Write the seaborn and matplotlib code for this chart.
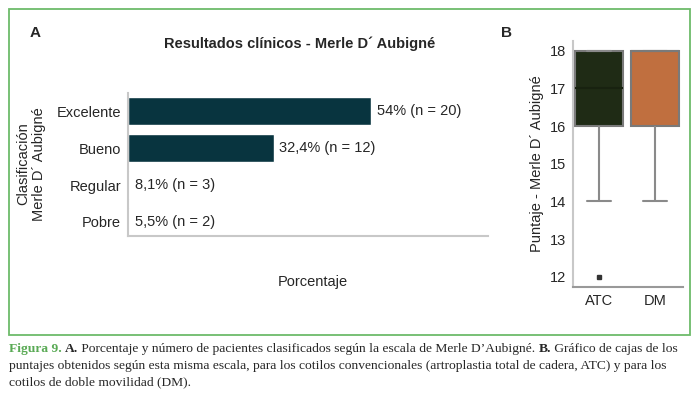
import numpy as np
import pandas as pd
import matplotlib
matplotlib.use('Agg')
import matplotlib.pyplot as plt
import seaborn as sns
from matplotlib.patches import Rectangle

# Panel A data
categorias = ['Excelente', 'Bueno', 'Regular', 'Pobre']
largo_barra = [54, 32.4, 0.3, 0.3]  # Regular/Pobre bars barely visible in the original
etiquetas = ['54% (n = 20)', '32,4% (n = 12)', '8,1% (n = 3)', '5,5% (n = 2)']

# Panel B data (individual scores)
atc = [12, 14, 16, 16, 16, 17, 17, 17, 18, 18, 18, 18]
dm = [14, 16, 16, 16, 17, 18, 18, 18, 18, 18, 18, 18]
grupos = ['ATC', 'DM']

sns.set_style('white')
plt.rcParams['font.family'] = ['Liberation Sans', 'DejaVu Sans']

fig = plt.figure(figsize=(6.99, 3.98), dpi=100)
W, H = 699, 398


def ax_px(x0, y0, x1, y1):
    return fig.add_axes([x0 / W, 1 - y1 / H, (x1 - x0) / W, (y1 - y0) / H])


gris = '#c8c8c8'

# ---- Panel A ----
axA = ax_px(128, 93, 488, 236)
dfA = pd.DataFrame({'cat': categorias, 'val': largo_barra})
sns.barplot(data=dfA, x='val', y='cat', orient='h', color='#08343f',
            width=0.75, ax=axA, saturation=1)
for i, (v, t) in enumerate(zip(largo_barra, etiquetas)):
    axA.annotate(t, (v, i), xytext=(4, 0), textcoords='offset points',
                 va='center', ha='left', fontsize=10.5)
axA.set_xlim(0, 80)
axA.set_ylim(3.38, -0.49)
axA.set_xticks(np.arange(0, 81, 10))
axA.set_xticklabels([])
axA.set_xlabel('')
axA.set_ylabel('')
axA.tick_params(axis='y', labelsize=10.5, length=3, color=gris, pad=2)
axA.tick_params(axis='x', length=3, color=gris)
for s in ['top', 'right']:
    axA.spines[s].set_visible(False)
for s in ['left', 'bottom']:
    axA.spines[s].set_color(gris)
    axA.spines[s].set_linewidth(1.5)

fig.text(35 / W, 1 - 33 / H, 'A', fontsize=11, fontweight='bold', ha='center', va='center')
fig.text(300 / W, 1 - 44 / H, 'Resultados clínicos - Merle D´ Aubigné',
         fontsize=10.5, fontweight='bold', ha='center', va='center')
fig.text(31 / W, 1 - 164 / H, 'Clasificación\nMerle D´ Aubigné', rotation=90,
         fontsize=10.5, ha='center', va='center', linespacing=1.1)
fig.text(313 / W, 1 - 282 / H, 'Porcentaje', fontsize=10.5, ha='center', va='center')

# ---- Panel B ----
axB = ax_px(573, 41, 683, 287)
dfB = pd.DataFrame({'grupo': ['ATC'] * len(atc) + ['DM'] * len(dm),
                    'puntaje': atc + dm})
sns.boxplot(data=dfB, x='grupo', y='puntaje', hue='grupo',
            palette=['#1f2b15', '#c06f3f'], width=0.86, ax=axB,
            saturation=1, linecolor='#8a8a8a', linewidth=1.5,
            flierprops=dict(marker='s', markersize=2.5, markerfacecolor='#333333',
                            markeredgecolor='#333333'),
            medianprops=dict(color='#182210', linewidth=1.5),
            boxprops=dict(edgecolor='#7a7a7a'))
# DM median sits on the box top edge: keep it grey like the edge
for ln in axB.lines:
    yd = np.asarray(ln.get_ydata(), dtype=float)
    if len(yd) == 2 and np.all(yd == 18) and ln.get_color() == '#182210':
        ln.set_color('#7a7a7a')
axB.set_xlim(-0.464, 1.5)
axB.set_ylim(11.73, 18.26)
axB.set_yticks(range(12, 19))
axB.set_xlabel('')
axB.set_ylabel('Puntaje - Merle D´ Aubigné', fontsize=10.5, labelpad=4)
axB.tick_params(axis='both', labelsize=10.5, length=3, color=gris, pad=2)
for s in ['top', 'right']:
    axB.spines[s].set_visible(False)
axB.spines['left'].set_color(gris)
axB.spines['left'].set_linewidth(1.5)
axB.spines['bottom'].set_color('#999999')
axB.spines['bottom'].set_linewidth(1.5)

fig.text(507 / W, 1 - 33 / H, 'B', fontsize=11, fontweight='bold', ha='center', va='center')

# ---- frame and caption ----
fig.patches.append(Rectangle((9 / W, 1 - 335 / H), (690 - 9) / W, (335 - 9) / H,
                             transform=fig.transFigure, fill=False,
                             edgecolor='#6dbb6a', linewidth=1.3))

serif = ['Liberation Serif', 'DejaVu Serif']
cap_size = 9.7
r = fig.canvas.get_renderer()
y1 = 1 - 349 / H
t = fig.text(9 / W, y1, 'Figura 9. ', family=serif, fontsize=cap_size,
             fontweight='bold', color='#5aaa55', va='center')
x = t.get_window_extent(r).x1
partes = [('A.', 'bold'), (' Porcentaje y número de pacientes clasificados según la escala de Merle D’Aubigné. ', 'normal'),
          ('B.', 'bold'), (' Gráfico de cajas de los', 'normal')]
for txt, w in partes:
    t = fig.text(x / W, y1, txt, family=serif, fontsize=cap_size, fontweight=w, va='center')
    x = t.get_window_extent(r).x1
fig.text(9 / W, 1 - 366 / H, 'puntajes obtenidos según esta misma escala, para los cotilos convencionales (artroplastia total de cadera, ATC) y para los',
         family=serif, fontsize=cap_size, va='center')
fig.text(9 / W, 1 - 382 / H, 'cotilos de doble movilidad (DM).',
         family=serif, fontsize=cap_size, va='center')

fig.savefig('out.png', dpi=100)
